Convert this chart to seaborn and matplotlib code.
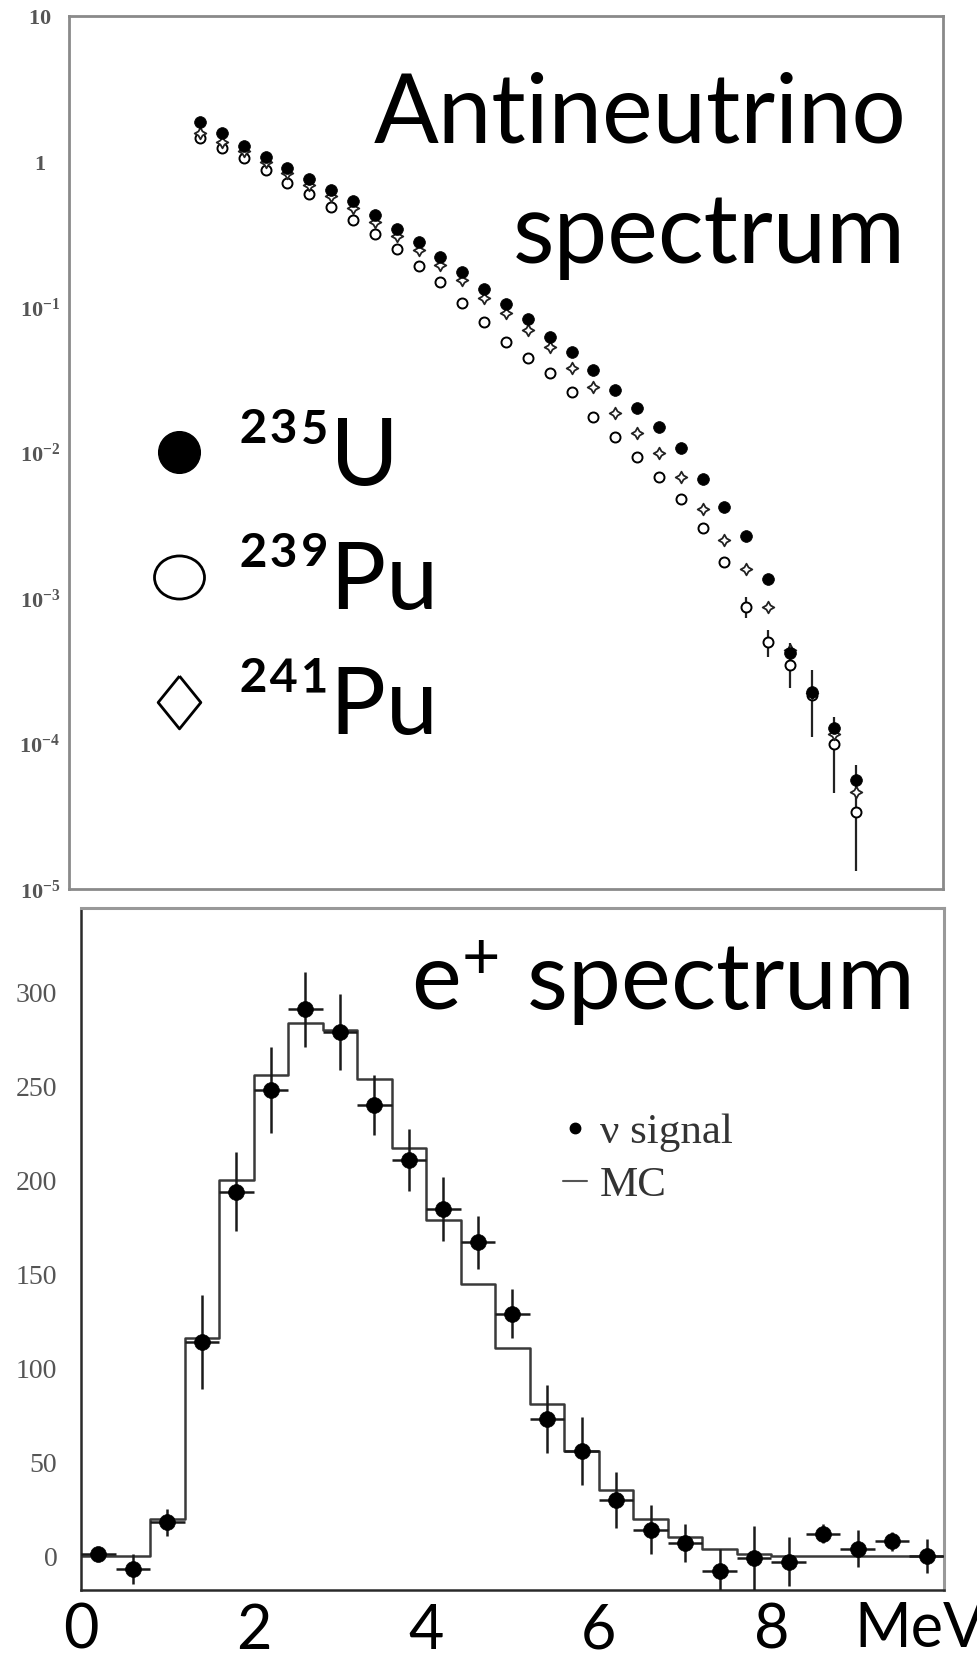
import numpy as np
import pandas as pd
import seaborn as sns
import matplotlib
matplotlib.use('Agg')
import matplotlib.pyplot as plt
from matplotlib.lines import Line2D
from matplotlib.path import Path
from matplotlib.transforms import Affine2D
from matplotlib.ticker import MultipleLocator, LogLocator, NullFormatter

# ---- antineutrino spectra (per fission) ----
energy_nu = [1.5, 1.75, 2.0, 2.25, 2.5, 2.75, 3.0, 3.25, 3.5, 3.75, 4.0,
             4.25, 4.5, 4.75, 5.0, 5.25, 5.5, 5.75, 6.0, 6.25, 6.5, 6.75,
             7.0, 7.25, 7.5, 7.75, 8.0, 8.25, 8.5, 8.75, 9.0]
u235 = [1.88, 1.58, 1.28, 1.08, 0.90, 0.755, 0.637, 0.535, 0.429, 0.345,
        0.279, 0.222, 0.174, 0.133, 0.105, 0.0823, 0.0625, 0.0489, 0.0369,
        0.0269, 0.0202, 0.0150, 0.0107, 0.00658, 0.00425, 0.00267, 0.00135,
        0.000417, 0.000227, 0.000127, 5.6e-5]
pu239 = [1.44, 1.24, 1.06, 0.88, 0.71, 0.595, 0.489, 0.396, 0.316, 0.249,
         0.191, 0.149, 0.106, 0.0789, 0.0578, 0.0444, 0.0353, 0.0262, 0.0176,
         0.0127, 0.00935, 0.00682, 0.00479, 0.00301, 0.00176, 0.00087,
         0.000496, 0.000347, 0.000216, 9.9e-5, 3.37e-5]
pu241 = [1.56, 1.37, 1.18, 0.99, 0.828, 0.689, 0.58, 0.479, 0.384, 0.308,
         0.245, 0.194, 0.153, 0.116, 0.0905, 0.0695, 0.0533, 0.0379, 0.0283,
         0.0188, 0.0137, 0.0099, 0.00676, 0.00407, 0.00251, 0.00157, 0.00087,
         0.00044, 0.000221, 0.000117, 4.67e-5]

# error band limits on the high energy points
err_energy = [7.75, 8.0, 8.25, 8.5, 8.75, 9.0]
err_center = [0.00087, 0.000496, 0.000347, 0.000216, 9.9e-5, 3.37e-5]
err_low = [0.000726, 0.000395, 0.00024, 0.000111, 4.55e-5, 1.32e-5]
err_high = [0.00102, 0.000603, 0.000491, 0.00032, 0.000153, 7.1e-5]

# ---- positron spectrum ----
e_centers = [0.2, 0.6, 1.0, 1.4, 1.8, 2.2, 2.6, 3.0, 3.4, 3.8, 4.2, 4.6, 5.0,
             5.4, 5.8, 6.2, 6.6, 7.0, 7.4, 7.8, 8.2, 8.6, 9.0, 9.4, 9.8]
signal = [1, -7, 18, 114, 194, 248, 291, 279, 240, 211, 185, 167, 129,
          73, 56, 30, 14, 7, -8, -1, -3, 12, 4, 8, 0]
signal_err = [3, 8, 7, 25, 21, 23, 20, 20, 16, 16.5, 17, 14, 13,
              18, 18, 15, 13, 10, 12, 17, 13, 5, 10, 5, 9]
mc_counts = [0, 0, 20, 116, 200, 256, 284, 280, 254, 217, 179, 145, 111,
             81, 56, 35.5, 20, 10, 4, 1, 0, 0, 0, 0, 0]

sns.set_style('white')
plt.rcParams['font.family'] = ['Lato', 'Noto Sans', 'DejaVu Sans']
plt.rcParams['text.color'] = 'black'
plt.rcParams['mathtext.fontset'] = 'custom'
plt.rcParams['mathtext.rm'] = 'Liberation Serif'
plt.rcParams['mathtext.bf'] = 'Liberation Serif:bold'
plt.rcParams['mathtext.it'] = 'Liberation Serif:italic'
plt.rcParams['mathtext.sf'] = 'Lato'

fig = plt.figure(figsize=(9.77, 16.53), dpi=100)
ax_top = fig.add_axes([0.0706, 0.4622, 0.8946, 0.5281])
ax_bot = fig.add_axes([0.0829, 0.0381, 0.8833, 0.4126])

# ================= top panel =================
ax_top.set_yscale('log')

ax_top.errorbar(err_energy, err_center,
                yerr=[np.subtract(err_center, err_low), np.subtract(err_high, err_center)],
                fmt='none', ecolor='#222222', elinewidth=1.6, capsize=0, zorder=2)

sns.scatterplot(x=energy_nu, y=pu239, ax=ax_top, marker='o', s=52,
                color='white', edgecolor='black', linewidth=1.4, zorder=3)
sns.scatterplot(x=energy_nu, y=pu241, ax=ax_top, marker=(4, 1, 0), s=70,
                color='white', edgecolor='#222222', linewidth=1.3, zorder=4)
sns.scatterplot(x=energy_nu, y=u235, ax=ax_top, marker='o', s=72,
                color='black', edgecolor='black', linewidth=0.5, zorder=5)

ax_top.set_xlim(0, 10)
ax_top.set_ylim(1e-5, 10)
ax_top.set_xlabel('')
ax_top.set_ylabel('')

ax_top.xaxis.set_major_locator(MultipleLocator(1))
ax_top.xaxis.set_minor_locator(MultipleLocator(0.2))
ax_top.tick_params(axis='x', which='major', direction='in', length=11, width=1.3,
                   color='#888888', labelbottom=False)
ax_top.tick_params(axis='x', which='minor', direction='in', length=6, width=1.2,
                   color='#888888')

decades = [1e-5, 1e-4, 1e-3, 1e-2, 1e-1, 1, 10]
decade_labels = [r'$\mathbf{10}^{\mathbf{-5}}$', r'$\mathbf{10}^{\mathbf{-4}}$',
                 r'$\mathbf{10}^{\mathbf{-3}}$', r'$\mathbf{10}^{\mathbf{-2}}$',
                 r'$\mathbf{10}^{\mathbf{-1}}$', r'$\mathbf{1}$', r'$\mathbf{10}$']
ax_top.set_yticks(decades, labels=decade_labels)
ax_top.yaxis.set_minor_locator(LogLocator(base=10, subs=np.arange(2, 10)))
ax_top.yaxis.set_minor_formatter(NullFormatter())
ax_top.tick_params(axis='y', which='major', direction='in', length=13, width=1.3,
                   color='#888888', labelsize=16, labelcolor='#555555', pad=21)
ax_top.tick_params(axis='y', which='minor', direction='in', length=7, width=1.2,
                   color='#888888')
for label in ax_top.get_yticklabels():
    label.set_ha('center')

for side in ['left', 'right', 'top', 'bottom']:
    ax_top.spines[side].set_color('#8a8a8a')
    ax_top.spines[side].set_linewidth(2)

ax_top.text(0.958, 0.8557, 'Antineutrino', transform=ax_top.transAxes,
            ha='right', va='baseline', fontsize=69, color='black')
ax_top.text(0.958, 0.717, 'spectrum', transform=ax_top.transAxes,
            ha='right', va='baseline', fontsize=69, color='black')

ellipse = Path.unit_circle().transformed(Affine2D().scale(1.16, 1.0))
diamond = [(0, 1), (0.81, 0), (0, -1), (-0.81, 0), (0, 1)]
iso_handles = [
    Line2D([], [], ls='none', marker='o', ms=30, mfc='black', mec='black'),
    Line2D([], [], ls='none', marker=ellipse, ms=36, mfc='white', mec='black', mew=2),
    Line2D([], [], ls='none', marker=diamond, ms=38, mfc='white', mec='black', mew=2),
]
iso_labels = ['²³⁵U', '²³⁹Pu', '²⁴¹Pu']
iso_legend = ax_top.legend(iso_handles, iso_labels, loc='center left',
                           bbox_to_anchor=(0.094, 0.350), frameon=False,
                           prop={'family': ['Lato', 'Noto Sans'], 'size': 67},
                           handlelength=0.6, handletextpad=0.33, labelspacing=0.44,
                           borderpad=0, borderaxespad=0, numpoints=1)
for txt in iso_legend.get_texts():
    txt.set_color('black')

# ================= bottom panel =================
sns.histplot(x=e_centers, weights=mc_counts, binwidth=0.4, binrange=(0, 10),
             element='step', fill=False, color='#3a3a3a', linewidth=1.8,
             ax=ax_bot, zorder=2)
ax_bot.errorbar(e_centers, signal, xerr=0.2, yerr=signal_err, fmt='none',
                ecolor='#1a1a1a', elinewidth=1.8, capsize=0, zorder=3)
sns.scatterplot(x=e_centers, y=signal, ax=ax_bot, s=130, color='black',
                edgecolor='black', linewidth=0.5, zorder=4)

ax_bot.set_xlim(0, 10)
ax_bot.set_ylim(-18, 345)
ax_bot.set_xlabel('')
ax_bot.set_ylabel('')

ax_bot.set_xticks([0, 2, 4, 6, 8], labels=['0', '2', '4', '6', '8'])
ax_bot.xaxis.set_minor_locator(MultipleLocator(0.5))
ax_bot.set_yticks([0, 50, 100, 150, 200, 250, 300])
ax_bot.yaxis.set_minor_locator(MultipleLocator(25))
ax_bot.tick_params(axis='x', which='major', direction='in', length=12, width=1.5,
                   color='#333333', labelsize=44, labelcolor='black', pad=9)
ax_bot.tick_params(axis='x', which='minor', direction='in', length=6.5, width=1.5,
                   color='#333333')
ax_bot.tick_params(axis='y', which='major', direction='in', length=12, width=1.5,
                   color='#333333', labelsize=20, labelcolor='#555555', pad=17)
ax_bot.tick_params(axis='y', which='minor', direction='in', length=7, width=1.5,
                   color='#333333')
for label in ax_bot.get_yticklabels():
    label.set_fontfamily('Liberation Serif')

ax_bot.spines['left'].set_color('#2a2a2a')
ax_bot.spines['bottom'].set_color('#2a2a2a')
ax_bot.spines['left'].set_linewidth(1.8)
ax_bot.spines['bottom'].set_linewidth(1.8)
ax_bot.spines['top'].set_color('#999999')
ax_bot.spines['right'].set_color('#999999')
ax_bot.spines['top'].set_linewidth(2.2)
ax_bot.spines['right'].set_linewidth(2.2)

ax_bot.text(0.9606, 0.850, r'e$^{\mathsf{+}}$ spectrum', transform=ax_bot.transAxes,
            ha='right', va='baseline', fontsize=68, color='black')

sig_handles = [Line2D([], [], ls='none', marker='o', ms=7.5, color='black'),
               Line2D([], [], color='#555555', lw=1.5)]
sig_legend = ax_bot.legend(sig_handles, ['ν signal', 'MC'], loc='upper left',
                           bbox_to_anchor=(0.5585, 0.70), frameon=False,
                           prop={'family': 'Liberation Serif', 'size': 31},
                           handlelength=0.56, handletextpad=0.3, labelspacing=0.33,
                           borderpad=0, borderaxespad=0, numpoints=1)
for txt in sig_legend.get_texts():
    txt.set_color('#333333')

fig.text(0.875, 0.0035, 'MeV', fontsize=44, va='baseline', ha='left', color='black')

fig.savefig('out.png', dpi=100, facecolor='white')
